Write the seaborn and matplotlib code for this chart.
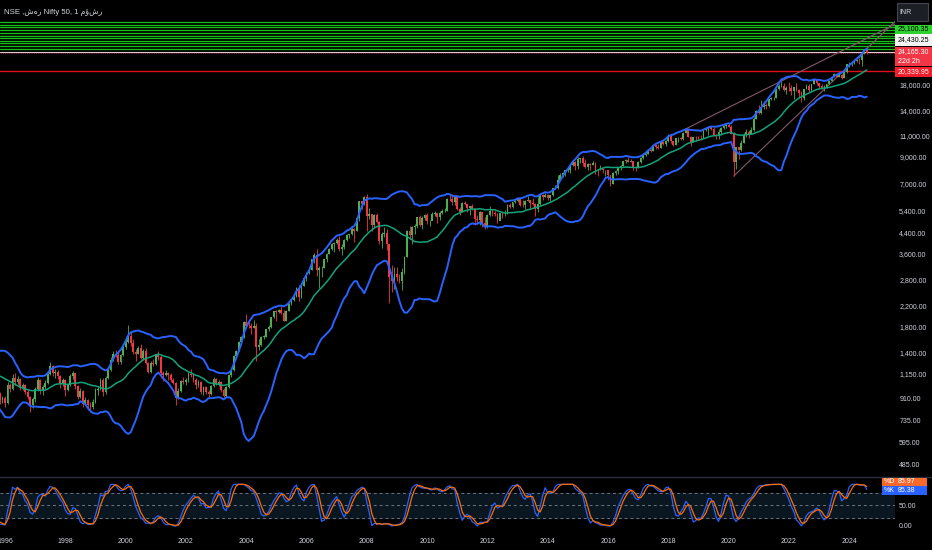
import numpy as np
import pandas as pd
import seaborn as sns
import matplotlib.pyplot as plt
from matplotlib.patches import Rectangle
from matplotlib.lines import Line2D
from matplotlib.ticker import NullLocator, NullFormatter

# monthly closes used only to warm up the indicators (1993-1994)
early_closes = [750, 720, 640, 610, 640, 660, 690, 760, 780, 800, 900, 1010,
                1190, 1170, 1100, 1150, 1200, 1280, 1300, 1330, 1390, 1330, 1290, 1210]

# Nifty 50 monthly candles, Jan 1995 .. Aug 2024 (open = previous close)
closes = [
    1100, 1060, 1010, 960, 950, 1000, 1020, 1010, 990, 950, 890, 910,          # 1995
    870, 1030, 990, 1100, 1060, 1090, 1000, 1030, 960, 920, 850, 900,          # 1996
    990, 1080, 970, 1010, 1050, 1140, 1230, 1150, 1170, 1120, 1050, 1080,      # 1997
    980, 1030, 1120, 1150, 1020, 920, 970, 860, 890, 850, 840, 880,            # 1998
    980, 990, 1080, 960, 1100, 1190, 1310, 1390, 1370, 1280, 1370, 1480,       # 1999
    1550, 1650, 1530, 1410, 1380, 1470, 1330, 1430, 1270, 1170, 1270, 1260,    # 2000
    1370, 1350, 1150, 1130, 1160, 1130, 1080, 1050, 910, 970, 1070, 1060,      # 2001
    1080, 1140, 1130, 1080, 1030, 1060, 960, 1010, 960, 950, 1020, 1090,       # 2002
    1040, 1060, 980, 930, 1010, 1130, 1190, 1360, 1420, 1550, 1620, 1880,      # 2003
    1810, 1800, 1770, 1800, 1480, 1510, 1630, 1630, 1750, 1790, 1960, 2080,    # 2004
    2060, 2100, 2040, 1900, 2090, 2220, 2310, 2380, 2600, 2370, 2650, 2840,    # 2005
    3000, 3070, 3400, 3560, 3070, 3130, 3140, 3410, 3590, 3740, 3950, 3970,    # 2006
    4080, 3750, 3820, 4090, 4300, 4320, 4530, 4460, 5020, 5900, 5760, 6140,    # 2007
    5140, 5220, 4730, 5170, 4870, 4040, 4330, 4360, 3920, 2890, 2760, 2960,    # 2008
    2870, 2760, 3020, 3470, 4450, 4290, 4640, 4660, 5080, 4710, 5030, 5200,    # 2009
    4880, 4920, 5250, 5280, 5090, 5310, 5370, 5400, 6030, 6020, 5860, 6130,    # 2010
    5510, 5330, 5830, 5750, 5560, 5650, 5480, 5000, 4940, 5330, 4830, 4620,    # 2011
    5200, 5390, 5300, 5250, 4920, 5280, 5230, 5260, 5700, 5620, 5880, 5900,    # 2012
    6030, 5690, 5680, 5930, 5990, 5840, 5740, 5470, 5740, 6300, 6180, 6300,    # 2013
    6090, 6280, 6700, 6700, 7230, 7610, 7720, 7950, 7960, 8320, 8590, 8280,    # 2014
    8810, 8900, 8490, 8180, 8430, 8370, 8530, 7970, 7950, 8070, 7940, 7950,    # 2015
    7560, 6990, 7740, 7850, 8160, 8290, 8640, 8790, 8610, 8630, 8220, 8190,    # 2016
    8560, 8880, 9170, 9300, 9620, 9520, 10080, 9920, 9790, 10340, 10230, 10530,  # 2017
    11030, 10490, 10110, 10740, 10740, 10710, 11360, 11680, 10930, 10390, 10880, 10860,  # 2018
    10830, 10790, 11620, 11750, 11920, 11790, 11120, 11020, 11470, 11880, 12060, 12170,  # 2019
    11960, 11200, 8600, 9860, 9580, 10300, 11070, 11390, 11250, 11640, 12970, 13980,     # 2020
    13630, 14530, 14690, 14630, 15580, 15720, 15760, 17130, 17620, 17670, 16980, 17350,  # 2021
    17340, 16790, 17460, 17100, 16580, 15780, 17160, 17760, 17090, 18010, 18760, 18110,  # 2022
    17660, 17300, 17360, 18070, 18530, 19190, 19750, 19250, 19640, 19080, 20130, 21730,  # 2023
    21730, 21980, 22330, 22600, 22530, 24010, 24950, 24165.3,                            # 2024
]
highs = [
    1220, 1120, 1080, 1030, 990, 1020, 1050, 1040, 1030, 1000, 960, 930,
    930, 1060, 1050, 1140, 1160, 1120, 1100, 1050, 1040, 980, 930, 920,
    1010, 1110, 1090, 1030, 1080, 1160, 1280, 1250, 1200, 1190, 1130, 1100,
    1090, 1050, 1140, 1180, 1160, 1030, 1000, 980, 920, 900, 880, 900,
    1000, 1010, 1100, 1100, 1120, 1200, 1340, 1420, 1440, 1410, 1390, 1500,
    1640, 1820, 1700, 1590, 1450, 1500, 1520, 1450, 1460, 1280, 1290, 1320,
    1390, 1420, 1370, 1180, 1190, 1170, 1150, 1100, 1060, 1000, 1080, 1110,
    1100, 1170, 1200, 1150, 1100, 1080, 1070, 1020, 1020, 980, 1030, 1110,
    1100, 1080, 1070, 1000, 1020, 1140, 1210, 1370, 1440, 1570, 1640, 1900,
    2015, 1880, 1850, 1910, 1860, 1590, 1650, 1660, 1760, 1830, 1970, 2090,
    2110, 2120, 2190, 2100, 2100, 2240, 2330, 2420, 2620, 2670, 2660, 2850,
    3010, 3110, 3420, 3600, 3770, 3180, 3200, 3430, 3610, 3800, 3970, 4010,
    4170, 4250, 3920, 4110, 4310, 4350, 4620, 4570, 5060, 5920, 5940, 6190,
    6360, 5550, 5200, 5230, 5300, 4900, 4400, 4650, 4560, 3950, 3240, 3150,
    3150, 2970, 3140, 3520, 4510, 4690, 4670, 4740, 5090, 5180, 5140, 5220,
    5310, 4950, 5330, 5400, 5280, 5370, 5480, 5550, 6070, 6280, 6340, 6150,
    6180, 5600, 5870, 5950, 5780, 5660, 5740, 5550, 5170, 5400, 5330, 5100,
    5220, 5630, 5500, 5380, 5280, 5290, 5350, 5450, 5740, 5820, 5890, 5970,
    6110, 6050, 5970, 5960, 6230, 6010, 6090, 5810, 6140, 6320, 6340, 6420,
    6360, 6290, 6730, 6870, 7560, 7700, 7840, 7970, 8180, 8330, 8620, 8630,
    8990, 8940, 9120, 8850, 8490, 8470, 8650, 8620, 8060, 8340, 8120, 7980,
    7970, 7600, 7780, 7990, 8210, 8310, 8680, 8820, 8970, 8810, 8670, 8280,
    8670, 8980, 9220, 9370, 9650, 9710, 10120, 10140, 10180, 10370, 10490, 10550,
    11170, 11120, 10530, 10760, 10930, 10890, 11370, 11760, 11750, 11040, 10920, 10990,
    10990, 11120, 11630, 11860, 12040, 12100, 11980, 11180, 11700, 11950, 12160, 12290,
    12430, 12250, 11430, 9890, 9600, 10550, 11340, 11800, 11620, 12030, 13150, 14020,
    14750, 15430, 15340, 15040, 15610, 15920, 15960, 17150, 17950, 18600, 18210, 17640,
    18350, 17790, 17560, 18110, 17130, 16790, 17170, 17990, 18100, 18100, 18820, 18890,
    18250, 17970, 17800, 18090, 18660, 19200, 19990, 19800, 20220, 19850, 20160, 21800,
    22120, 22300, 22530, 22780, 23110, 24170, 24990, 25080,
]
lows = [
    1080, 1030, 980, 940, 920, 940, 980, 990, 970, 930, 860, 870,
    840, 860, 960, 980, 1030, 1040, 980, 980, 950, 900, 800, 830,
    880, 970, 950, 940, 990, 1040, 1130, 1120, 1100, 1090, 1000, 1020,
    930, 970, 1020, 1090, 990, 900, 910, 840, 850, 810, 800, 820,
    870, 940, 980, 930, 950, 1090, 1180, 1290, 1340, 1260, 1260, 1360,
    1450, 1540, 1500, 1380, 1300, 1380, 1320, 1310, 1260, 1150, 1160, 1240,
    1250, 1310, 1100, 1070, 1120, 1080, 1060, 1040, 850, 900, 960, 1040,
    1030, 1060, 1110, 1060, 990, 1010, 950, 940, 950, 920, 940, 1010,
    1030, 1020, 960, 920, 920, 1000, 1110, 1180, 1320, 1420, 1540, 1610,
    1780, 1770, 1680, 1770, 1290, 1440, 1490, 1590, 1620, 1730, 1770, 1940,
    1900, 2040, 2020, 1890, 1890, 2080, 2200, 2300, 2380, 2300, 2360, 2630,
    2780, 2960, 3070, 3300, 2900, 2600, 2880, 3130, 3320, 3570, 3730, 3650,
    3920, 3680, 3550, 3770, 4050, 4150, 4290, 4000, 4450, 4920, 5500, 5680,
    4450, 4990, 4470, 4620, 4800, 3940, 3790, 4210, 3710, 2250, 2500, 2570,
    2760, 2710, 2540, 2970, 3470, 4140, 3920, 4350, 4570, 4690, 4540, 4940,
    4770, 4680, 4930, 5160, 4790, 4970, 5230, 5350, 5400, 5940, 5690, 5720,
    5420, 5180, 5350, 5690, 5330, 5200, 5450, 4720, 4760, 4730, 4640, 4530,
    4590, 5160, 5140, 5150, 4790, 4970, 5030, 5160, 5220, 5550, 5550, 5820,
    5880, 5670, 5600, 5480, 5910, 5570, 5680, 5120, 5320, 5700, 5970, 6130,
    5990, 5930, 6210, 6650, 6640, 7240, 7420, 7540, 7840, 7720, 8290, 7960,
    8070, 8470, 8270, 8140, 7990, 7940, 8320, 7670, 7540, 7930, 7710, 7550,
    7240, 6830, 6980, 7580, 7680, 7930, 8290, 8520, 8560, 8550, 7920, 7890,
    8130, 8540, 8860, 9130, 9270, 9450, 9540, 9690, 9690, 9830, 10090, 10030,
    10400, 10280, 9950, 10110, 10420, 10560, 10600, 11360, 10850, 10000, 10340, 10530,
    10580, 10590, 10820, 11550, 11110, 11620, 11070, 10640, 10670, 11090, 11800, 11830,
    11930, 11180, 7510, 8060, 8810, 9540, 10300, 10880, 10790, 11350, 11560, 12960,
    13600, 13600, 14260, 14150, 14420, 15450, 15510, 15830, 17060, 17450, 16780, 16410,
    16840, 16200, 15670, 16820, 15740, 15180, 15510, 17150, 16750, 16860, 17960, 17770,
    17410, 17260, 16830, 17310, 18060, 18460, 19230, 19220, 19260, 18840, 19080, 20100,
    21140, 21450, 21710, 22130, 21820, 21280, 23990, 23890,
]

# horizontal levels and trendlines drawn on the chart
green_levels = [25100.35, 25850, 26500, 27150, 27850, 28550, 29350, 30100, 30900, 31700, 32400]
white_level = 24430.25
red_level = 20339.95
last_price = 24165.30
trend_upper_dates = [2018.58, 2025.52]
trend_upper_prices = [11760, 31800]
trend_lower_dates = [2020.17, 2025.52]
trend_lower_prices = [7510, 32600]

price_ticks = [485, 595, 735, 910, 1150, 1400, 1800, 2200, 2800, 3600, 4400,
               5400, 7000, 9000, 11000, 14000, 18000]
year_ticks = list(range(1996, 2025, 2))
k_last, d_last = 85.38, 85.97

# ---------------------------------------------------------------
all_close = pd.Series(early_closes + closes, dtype=float)
dates = pd.date_range("1993-01-01", periods=len(all_close), freq="MS")
t_all = dates.year + (dates.month - 1) / 12.0

# Bollinger bands 20, 2
basis = all_close.rolling(20).mean()
dev = all_close.rolling(20).std(ddof=0)
upper = basis + 2 * dev
lower = basis - 2 * dev

# Stochastic RSI 3,3,14,14
delta = all_close.diff()
gain = delta.clip(lower=0).ewm(alpha=1 / 14, adjust=False).mean()
loss = (-delta.clip(upper=0)).ewm(alpha=1 / 14, adjust=False).mean()
rsi = 100 - 100 / (1 + gain / loss)
rlo = rsi.rolling(14).min()
rhi = rsi.rolling(14).max()
stoch = 100 * (rsi - rlo) / (rhi - rlo)
k = stoch.rolling(3).mean()
d = k.rolling(3).mean()

ind = pd.DataFrame({"t": t_all, "upper": upper, "basis": basis, "lower": lower,
                    "k": k, "d": d})

n0 = len(early_closes)
c = np.array(closes, dtype=float)
h = np.array(highs, dtype=float)
lo = np.array(lows, dtype=float)
o = np.r_[early_closes[-1], c[:-1]]
tc = np.asarray(t_all[n0:])

# ---------------------------------------------------------------
sns.set_theme(style="dark", rc={
    "figure.facecolor": "black", "axes.facecolor": "black",
    "axes.edgecolor": "black", "axes.grid": False,
})
plt.rcParams["font.family"] = ["Liberation Sans", "DejaVu Sans"]

W, H = 932, 550
fig = plt.figure(figsize=(W / 100, H / 100), dpi=100)
ax = fig.add_axes([0, 1 - 476 / H, 895 / W, 476 / H])
ax2 = fig.add_axes([0, 1 - 532 / H, 895 / W, 54 / H])

up_col, dn_col = "#4caf50", "#f23645"
txt_col = "#d1d4dc"
fs = 5.0

ax.set_yscale("log")
ax.set_xlim(1995.834, 2025.52)
ax.set_ylim(434, 40040)

# horizontal levels
for lv in green_levels:
    ax.axhline(lv, color="#14c014", lw=0.9, zorder=1)
ax.axhline(white_level, color="#d8cfd3", lw=0.8, zorder=1)
ax.axhline(last_price, color="#8b1a2a", lw=0.8, ls=(0, (1, 1)), zorder=1)
ax.axhline(red_level, color="#e0101e", lw=1.0, zorder=1)

# trendlines
ax.plot(trend_upper_dates, trend_upper_prices, color="#84586c", lw=0.8, zorder=2)
ax.plot(trend_lower_dates, trend_lower_prices, color="#84586c", lw=0.8, zorder=2)

# candles
up = c >= o
for mask, col in ((up, up_col), (~up, dn_col)):
    ax.vlines(tc[mask], lo[mask], h[mask], color=col, lw=0.6, zorder=3)
    bottom = np.minimum(o, c)[mask]
    height = np.maximum(np.abs(c - o)[mask], bottom * 0.004)
    ax.bar(tc[mask], height, bottom=bottom, width=0.06, color=col,
           linewidth=0, zorder=3)

# Bollinger bands
sns.lineplot(data=ind, x="t", y="upper", ax=ax, color="#2962ff", lw=1.4, zorder=4)
sns.lineplot(data=ind, x="t", y="lower", ax=ax, color="#2962ff", lw=1.4, zorder=4)
sns.lineplot(data=ind, x="t", y="basis", ax=ax, color="#13a37c", lw=1.1, zorder=4)

ax.yaxis.tick_right()
ax.set_yticks(price_ticks)
ax.set_yticklabels([f"{v:,.2f}" for v in price_ticks])
ax.yaxis.set_minor_locator(NullLocator())
ax.yaxis.set_minor_formatter(NullFormatter())
ax.tick_params(axis="y", length=0, pad=3, labelsize=fs, colors=txt_col)
ax.set_xticks([])
ax.set_xlabel("")
ax.set_ylabel("")
for s in ax.spines.values():
    s.set_visible(False)

# Stochastic RSI panel
ax2.set_xlim(1995.834, 2025.52)
ax2.set_ylim(-14.4, 115.2)
ax2.axhspan(20, 80, color="#0a1620", zorder=0)
for lv in (20, 50, 80):
    ax2.axhline(lv, color="#6f7380", lw=0.7, ls=(0, (3, 3)), zorder=1)
sns.lineplot(data=ind, x="t", y="k", ax=ax2, color="#2962ff", lw=0.9, zorder=3)
sns.lineplot(data=ind, x="t", y="d", ax=ax2, color="#ff6d00", lw=0.9, zorder=3)
ax2.yaxis.tick_right()
ax2.set_yticks([0, 50])
ax2.set_yticklabels(["0.00", "50.00"])
ax2.set_xticks(year_ticks)
ax2.set_xticklabels([str(y) for y in year_ticks])
ax2.tick_params(axis="y", length=0, pad=3, labelsize=fs, colors=txt_col)
ax2.tick_params(axis="x", length=0, pad=4, labelsize=fs, colors=txt_col)
ax2.set_xlabel("")
ax2.set_ylabel("")
for s in ax2.spines.values():
    s.set_visible(False)


# ---- overlays in pixel coordinates ----
def fx(x):
    return x / W


def fy(y):
    return 1 - y / H


def badge(x0, y0, x1, y1, fc, lines, tcol, ec="none", zorder=5, pad=2.5):
    fig.add_artist(Rectangle((fx(x0), fy(y1)), fx(x1) - fx(x0), fy(y0) - fy(y1),
                             transform=fig.transFigure, facecolor=fc,
                             edgecolor=ec, lw=0.8, zorder=zorder))
    n = len(lines)
    step = (y1 - y0) / n
    for i, s in enumerate(lines):
        fig.text(fx(x0 + pad), fy(y0 + step * (i + 0.5)), s, color=tcol,
                 fontsize=fs, va="center", ha="left", zorder=zorder + 1)


# separator between panels
fig.add_artist(Line2D([0, 1], [fy(477), fy(477)], transform=fig.transFigure,
                      color="#2a2e39", lw=1.0, zorder=5))

badge(897, 3, 928, 21, "#1c1f26", ["INR"], "#d1d4dc", ec="#434651")
badge(895, 24.5, 932, 33.5, "#2fd12f", [f"{green_levels[0]:,.2f}"], "black")
badge(895, 34.5, 932, 45.5, "#f4f4f4", [f"{white_level:,.2f}"], "black")
badge(895, 46.5, 932, 66, "#f23645", [f"{last_price:,.2f}", "22d 2h"], "white")
badge(895, 67, 932, 77, "#f21d2a", [f"{red_level:,.2f}"], "white")
badge(882, 478, 895, 485.5, "#f7682b", ["%D"], "white", pad=1.5)
badge(895, 478, 927, 485.5, "#f7682b", [f"{d_last:.2f}"], "white")
badge(882, 486, 895, 494.5, "#2962ff", ["%K"], "white", pad=1.5)
badge(895, 486, 927, 494.5, "#2962ff", [f"{k_last:.2f}"], "white")

fig.text(fx(4), fy(12), "NSE ,شهر Nifty 50, 1 مؤشر", color="#d1d4dc",
         fontsize=5.6, va="center", ha="left")

fig.savefig("out.png", dpi=100, facecolor="black")
